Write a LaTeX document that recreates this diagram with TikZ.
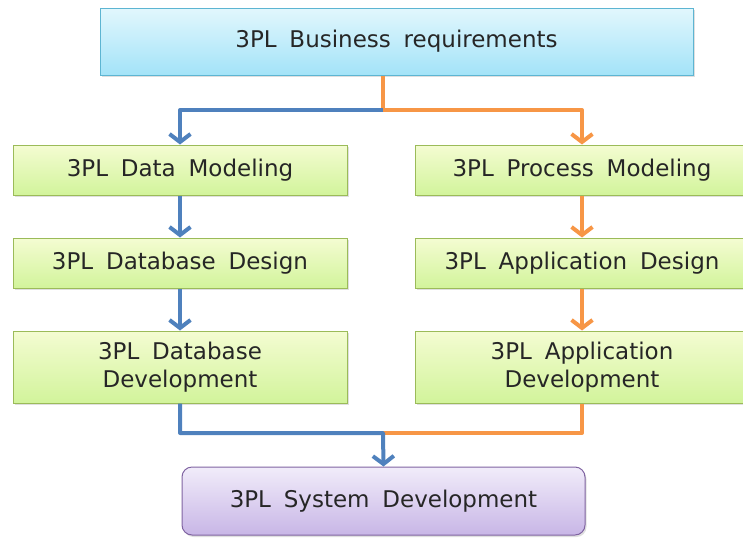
\documentclass[tikz,border=0pt]{standalone}
\usepackage{fontspec}
\setmainfont{DejaVu Sans}[WordSpace=1.75]
\usetikzlibrary{arrows.meta,shadows}
\definecolor{cyanTop}{HTML}{E2F7FD}
\definecolor{cyanBot}{HTML}{A3E3F8}
\definecolor{cyanLine}{HTML}{5DB5D2}
\definecolor{greenTop}{HTML}{F4FCD2}
\definecolor{greenBot}{HTML}{D2F49B}
\definecolor{greenLine}{HTML}{9BBB59}
\definecolor{violetTop}{HTML}{F1ECFA}
\definecolor{violetBot}{HTML}{C8B6E6}
\definecolor{violetLine}{HTML}{8064A2}
\definecolor{flowBlue}{HTML}{4F81BD}
\definecolor{flowOrange}{HTML}{F79646}
\begin{document}
\begin{tikzpicture}[x=1pt,y=-1pt,
  card/.style={draw, line width=1pt, align=center, font=\fontsize{23}{28}\selectfont,
    text=black!85, inner sep=0pt,
    drop shadow={shadow xshift=1.5pt, shadow yshift=-2pt, opacity=0.25}},
  reqbox/.style={card, draw=cyanLine, top color=cyanTop, bottom color=cyanBot},
  stepbox/.style={card, draw=greenLine, top color=greenTop, bottom color=greenBot,
    minimum width=334pt},
  sysbox/.style={card, draw=violetLine, top color=violetTop, bottom color=violetBot,
    rounded corners=10pt},
  flow/.style={line width=4pt, line join=round},
  tip/.style={-{Straight Barb[length=8pt,width=21pt,line width=4pt]}},
  blueflow/.style={flow, draw=flowBlue},
  orangeflow/.style={flow, draw=flowOrange}]
\useasboundingbox (0,0) rectangle (743,538);

% boxes
\node[reqbox, minimum width=593pt, minimum height=67pt] (req) at (396.5,41.5) {3PL Business requirements};
\node[stepbox, minimum height=50pt] (dm) at (180,170) {3PL Data Modeling};
\node[stepbox, minimum height=50pt] (dbd) at (180,263) {3PL Database Design};
\node[stepbox, minimum height=72pt] (dbv) at (180,367) {3PL Database\\Development};
\node[stepbox, minimum height=50pt] (pm) at (582,170) {3PL Process Modeling};
\node[stepbox, minimum height=50pt] (apd) at (582,263) {3PL Application Design};
\node[stepbox, minimum height=72pt] (apv) at (582,367) {3PL Application\\Development};
\node[sysbox, minimum width=403pt, minimum height=68pt] (sys) at (383.5,501) {3PL System Development};

% split and join points
\coordinate (fork) at (383,110);
\coordinate (join) at (383,433);

% fork from the requirements
\draw[orangeflow, tip] (fork |- req.south) -- (fork) -| (pm.north);
\draw[blueflow, tip] (fork) -| (dm.north);

% left chain
\draw[blueflow, tip] (dm.south) -- (dbd.north);
\draw[blueflow, tip] (dbd.south) -- (dbv.north);

% right chain
\draw[orangeflow, tip] (pm.south) -- (apd.north);
\draw[orangeflow, tip] (apd.south) -- (apv.north);

% join into system development
\draw[orangeflow] (apv.south) |- (join);
\draw[blueflow, tip] (dbv.south) |- (join) -- (sys.north);
\end{tikzpicture}
\end{document}
